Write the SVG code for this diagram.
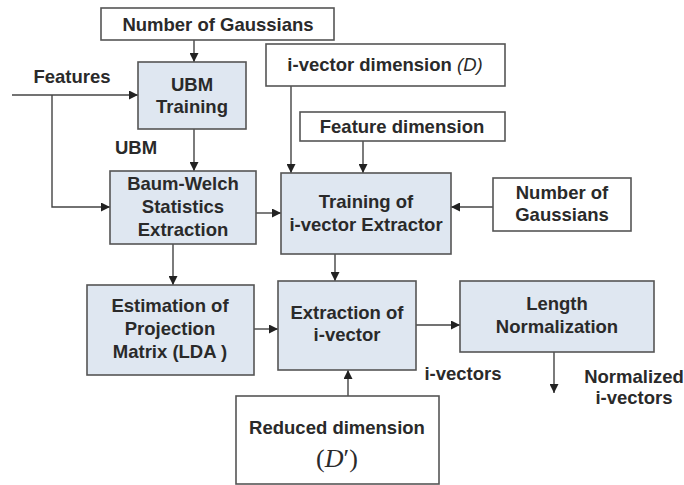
<svg xmlns="http://www.w3.org/2000/svg" width="684" height="485" viewBox="0 0 684 485">
<defs>
<marker id="ah" viewBox="0 0 10 10" refX="10" refY="5" markerWidth="10" markerHeight="9" markerUnits="userSpaceOnUse" orient="auto">
<path d="M0,0 L10,5 L0,10 Z" fill="#222"/>
</marker>
</defs>
<style>
.w{fill:#fff;stroke:#555;stroke-width:1.6}
.b{fill:#dfe7f1;stroke:#555;stroke-width:1.6}
.t{font-family:"Liberation Sans",Arial,sans-serif;font-weight:bold;font-size:18.5px;fill:#2a2a2a;text-anchor:middle}
.c{fill:none;stroke:#444;stroke-width:1.4;marker-end:url(#ah)}
</style>
<rect width="684" height="485" fill="#fff"/>
<g id="connectors">
<path class="c" d="M194,40 V62"/>
<path class="c" d="M12,95 H138"/>
<path class="c" d="M52,95 V207 H110"/>
<path class="c" d="M194,129 V171"/>
<path class="c" d="M291,86 V173"/>
<path class="c" d="M363,141 V173"/>
<path class="c" d="M256,213 H281"/>
<path class="c" d="M493,207 H451"/>
<path class="c" d="M173,244 V285"/>
<path class="c" d="M335,254 V281"/>
<path class="c" d="M254,329 H278"/>
<path class="c" d="M416,325 H460"/>
<path class="c" d="M348,396 V370"/>
<path class="c" d="M554,352 V393"/>
</g>
<g id="n-gauss-top"><rect class="w" x="101" y="8" width="233" height="32"/><text class="t" x="218" y="31">Number of Gaussians</text></g>
<g id="n-ubm"><rect class="b" x="138" y="62" width="108" height="67"/><text class="t" x="192" y="91">UBM</text><text class="t" x="192" y="113">Training</text></g>
<g id="n-ivdim"><rect class="w" x="266" y="44" width="239" height="42"/><text class="t" x="385" y="71">i-vector dimension <tspan font-weight="normal" font-style="italic">(D)</tspan></text></g>
<g id="n-featdim"><rect class="w" x="300" y="112" width="205" height="29"/><text class="t" x="402" y="133">Feature dimension</text></g>
<g id="n-bw"><rect class="b" x="110" y="171" width="146" height="73"/><text class="t" x="183" y="190">Baum-Welch</text><text class="t" x="183" y="213">Statistics</text><text class="t" x="183" y="236">Extraction</text></g>
<g id="n-train"><rect class="b" x="281" y="173" width="170" height="81"/><text class="t" x="366" y="208">Training of</text><text class="t" x="366" y="231">i-vector Extractor</text></g>
<g id="n-gauss-right"><rect class="w" x="493" y="178" width="138" height="53"/><text class="t" x="562" y="199">Number of</text><text class="t" x="562" y="221">Gaussians</text></g>
<g id="n-lda"><rect class="b" x="87" y="285" width="167" height="90"/><text class="t" x="170" y="312">Estimation of</text><text class="t" x="170" y="335">Projection</text><text class="t" x="170" y="358">Matrix (LDA )</text></g>
<g id="n-extract"><rect class="b" x="278" y="281" width="138" height="89"/><text class="t" x="347" y="319">Extraction of</text><text class="t" x="347" y="341">i-vector</text></g>
<g id="n-len"><rect class="b" x="460" y="281" width="194" height="71"/><text class="t" x="557" y="310">Length</text><text class="t" x="557" y="333">Normalization</text></g>
<g id="n-reduced"><rect class="w" x="236" y="396" width="203" height="88"/><text class="t" x="337" y="434">Reduced dimension</text><text x="337" y="467" font-family="'Liberation Serif',serif" font-size="26" fill="#2a2a2a" text-anchor="middle">(<tspan font-style="italic">D</tspan>′)</text></g>
<g id="labels">
<text class="t" x="72" y="83">Features</text>
<text class="t" x="136" y="154">UBM</text>
<text class="t" x="463" y="380">i-vectors</text>
<text class="t" x="634" y="383">Normalized</text>
<text class="t" x="634" y="404">i-vectors</text>
</g>
</svg>
